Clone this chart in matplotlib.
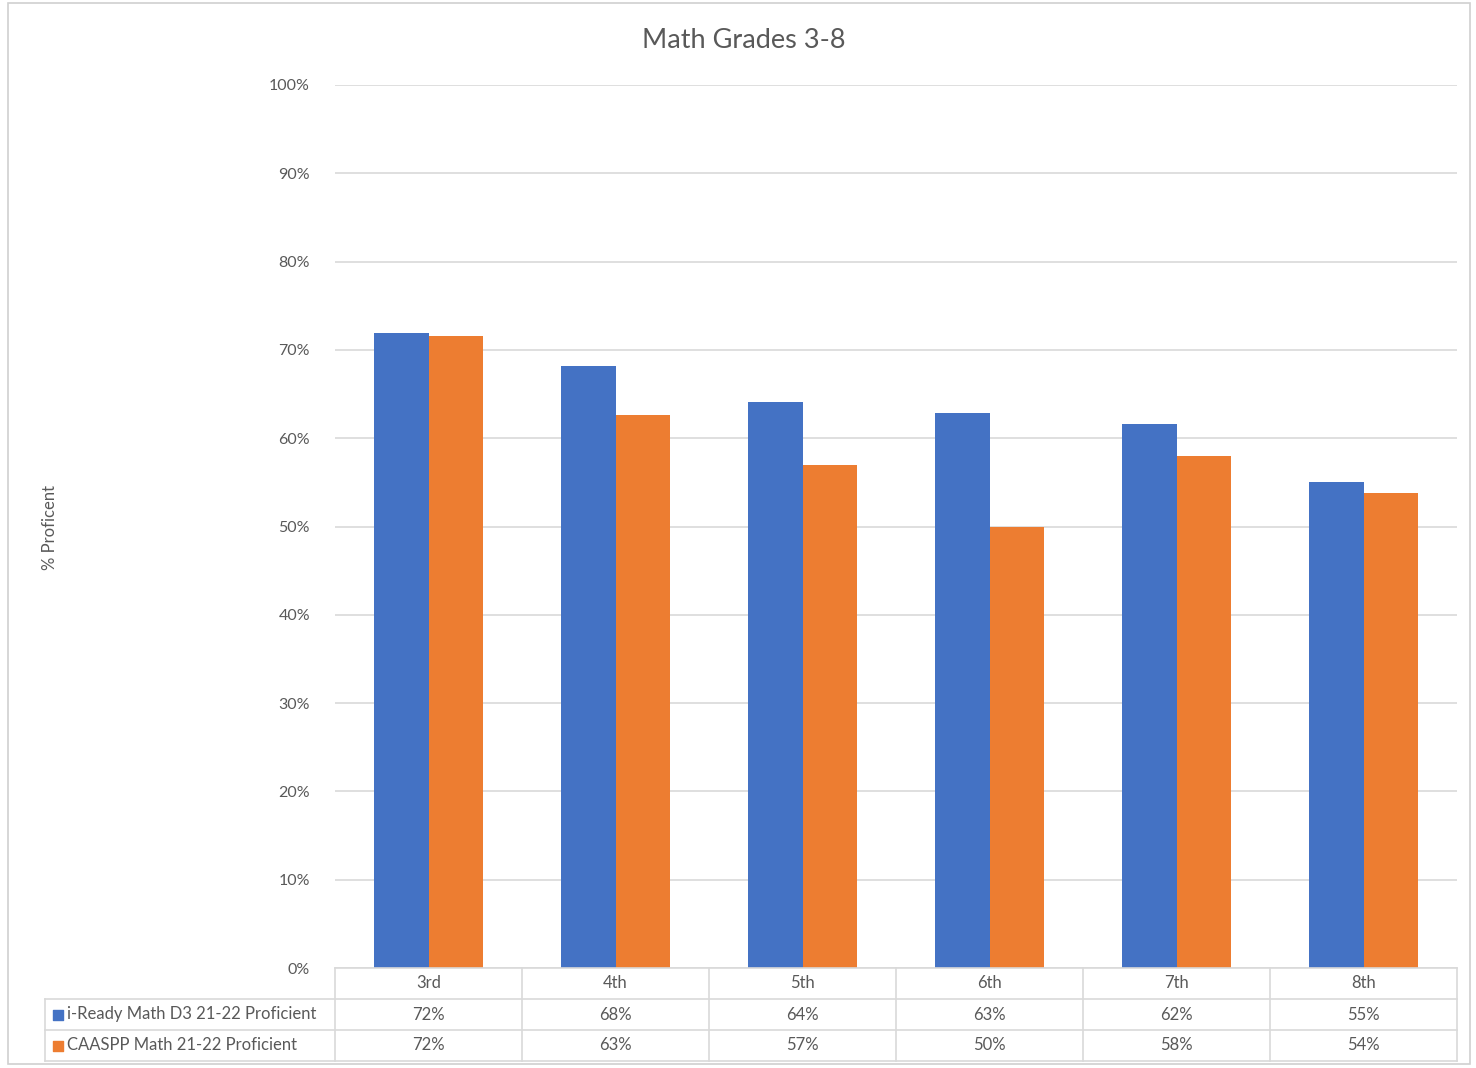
import matplotlib.pyplot as plt
from matplotlib.patches import Rectangle

grades = ['3rd', '4th', '5th', '6th', '7th', '8th']
iready = [71.9, 68.2, 64.1, 62.9, 61.6, 55.0]
caaspp = [71.6, 62.6, 57.0, 49.9, 58.0, 53.8]
series_names = ['i-Ready Math D3 21-22 Proficient', 'CAASPP Math 21-22 Proficient']
colors = ['#4472C4', '#ED7D31']

plt.rcParams['font.family'] = ['Lato', 'DejaVu Sans']
text_col = '#595959'
line_col = '#D9D9D9'

W, H = 1476, 1068
fig = plt.figure(figsize=(W / 100, H / 100), dpi=100)

# outer chart frame
fig.patches.append(Rectangle((8 / W, 4 / H), 1462 / W, 1061 / H, transform=fig.transFigure,
                             fill=False, edgecolor='#D0D0D0', linewidth=1.2))

# main plot area (pixels: x 335..1457, y 85..968)
x0, x1, y0, y1 = 335, 1457, 85, 968
ax = fig.add_axes([x0 / W, 1 - y1 / H, (x1 - x0) / W, (y1 - y0) / H])
pos = list(range(len(grades)))
w = 0.29
ax.bar([p - w / 2 for p in pos], iready, width=w, color=colors[0], zorder=3)
ax.bar([p + w / 2 for p in pos], caaspp, width=w, color=colors[1], zorder=3)
ax.set_xlim(-0.5, len(grades) - 0.5)
ax.set_ylim(0, 100)
ax.set_yticks(range(0, 101, 10))
ax.set_yticklabels([f'{v}%' for v in range(0, 101, 10)])
ax.tick_params(axis='y', length=0, pad=18, labelsize=11.5, labelcolor=text_col)
ax.set_xticks([])
ax.grid(axis='y', color=line_col, linewidth=1.2, zorder=0)
for s in ax.spines.values():
    s.set_visible(False)
fig.text(744 / W, 1 - 41 / H, 'Math Grades 3-8', ha='center', va='center',
         fontsize=19.5, color=text_col)
fig.text(50 / W, 1 - 528 / H, '% Proficent', rotation=90, ha='center', va='center',
         fontsize=12, color=text_col)

# data table below the plot (pixels: x 45..1457, y 968..1061)
tx0, ty0, ty1 = 45, 968, 1061
tab = fig.add_axes([tx0 / W, 1 - ty1 / H, (x1 - tx0) / W, (ty1 - ty0) / H])
left = -0.5 - (x0 - tx0) / ((x1 - x0) / len(grades))
tab.set_xlim(left, len(grades) - 0.5)
tab.set_ylim(3, 0)
tab.axis('off')
lw = 1.2
# header row lines (only over category columns)
tab.plot([-0.5, len(grades) - 0.5], [0, 0], color=line_col, lw=lw, clip_on=False)
for r in (1, 2, 3):
    tab.plot([left, len(grades) - 0.5], [r, r], color=line_col, lw=lw, clip_on=False)
for i in range(len(grades) + 1):
    tab.plot([i - 0.5, i - 0.5], [0, 3], color=line_col, lw=lw, clip_on=False)
tab.plot([left, left], [1, 3], color=line_col, lw=lw, clip_on=False)

fs = 12
for i, g in enumerate(grades):
    tab.text(i, 0.5, g, ha='center', va='center', fontsize=fs, color=text_col)
for r, vals in enumerate([iready, caaspp]):
    for i, v in enumerate(vals):
        tab.text(i, r + 1.5, f'{round(v)}%', ha='center', va='center', fontsize=fs, color=text_col)
    tab.scatter([left + 0.07], [r + 1.5], marker='s', s=45, color=colors[r], clip_on=False)
    tab.text(left + 0.12, r + 1.5, series_names[r], ha='left', va='center', fontsize=fs,
             color=text_col)

fig.savefig('out.png', dpi=100, facecolor='white')
